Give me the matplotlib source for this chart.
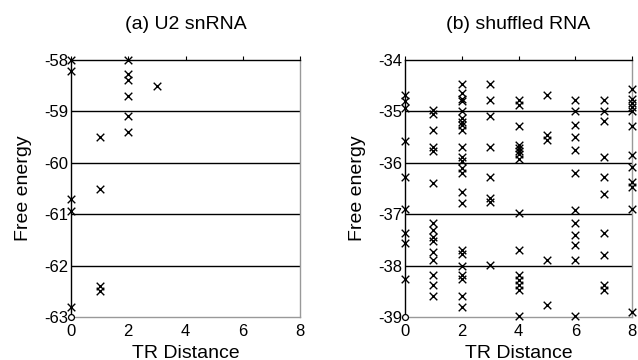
"""
Free energy vs TR distance for U2 snRNA and a shuffled RNA.
"""

import matplotlib
matplotlib.use("Agg")
import matplotlib.pyplot as plt

plt.rcParams["font.family"] = ["Liberation Sans", "DejaVu Sans"]
plt.rcParams["axes.unicode_minus"] = False

# (a) U2 snRNA: suboptimal structures
u2_dist = [0, 0, 0, 0, 0,
           1, 1, 1, 1,
           2, 2, 2, 2, 2, 2,
           3]
u2_energy = [-58.0, -58.21, -60.71, -60.93, -62.81,
             -59.49, -60.5, -62.39, -62.49,
             -58.0, -58.28, -58.39, -58.7, -59.09, -59.4,
             -58.5]
u2_mfe = (0, -63.0)

# (b) shuffled RNA
sh_dist = ([0] * 9 + [1] * 15 + [2] * 23 + [3] * 8 + [4] * 15
           + [5] * 5 + [6] * 12 + [7] * 10 + [8] * 12)
sh_energy = [
    # 0
    -34.68, -34.8, -34.94, -35.57, -36.27, -36.89, -37.37, -37.57, -38.27,
    # 1
    -34.97, -35.06, -35.36, -35.69, -35.77, -36.39,
    -37.18, -37.31, -37.44, -37.53, -37.73, -37.89, -38.18, -38.38, -38.59,
    # 2
    -34.47, -34.65, -34.75, -34.79, -34.99, -35.12, -35.2, -35.27, -35.36,
    -35.69, -35.88, -35.97, -36.11, -36.19, -36.56, -36.79,
    -37.7, -37.78, -38.0, -38.18, -38.27, -38.6, -38.8,
    # 3
    -34.47, -34.78, -35.09, -35.69, -36.27, -36.69, -36.77, -37.99,
    # 4
    -34.77, -34.88, -35.29, -35.66, -35.72, -35.82, -35.92,
    -36.98, -37.7, -38.18, -38.28, -38.38, -38.48, -38.99, -35.77,
    # 5
    -34.68, -35.46, -35.56, -37.89, -38.77,
    # 6
    -34.78, -34.99, -35.27, -35.5, -35.76, -36.19,
    -36.92, -37.18, -37.4, -37.6, -37.89, -38.99,
    # 7
    -34.78, -34.99, -35.18, -35.88, -36.27, -36.6,
    -37.37, -37.79, -38.38, -38.48,
    # 8
    -34.57, -34.75, -34.84, -34.91, -34.99, -35.29, -35.85, -36.08,
    -36.37, -36.47, -36.89, -38.9,
]
sh_mfe = (0, -39.0)

panels = [
    ("(a) U2 snRNA", u2_dist, u2_energy, u2_mfe, (-63, -58)),
    ("(b) shuffled RNA", sh_dist, sh_energy, sh_mfe, (-39, -34)),
]
x_ticks = [0, 2, 4, 6, 8]

fig = plt.figure(figsize=(6.38, 3.6), dpi=100)
rects = [[71 / 638, 43 / 360, 229 / 638, 257 / 360],
         [405 / 638, 43 / 360, 227 / 638, 257 / 360]]

for rect, (title, xs, ys, mfe, (ylo, yhi)) in zip(rects, panels):
    ax = fig.add_axes(rect)
    for yv in range(ylo + 1, yhi):
        ax.axhline(yv, color="black", linewidth=1.0, zorder=1)
    ax.scatter(xs, ys, marker="x", s=30, color="black", linewidths=1.0,
               clip_on=False, zorder=3)
    ax.scatter([mfe[0]], [mfe[1]], marker="o", s=18, facecolors="white",
               edgecolors="black", linewidths=0.9, clip_on=False, zorder=3)
    ax.set_xlim(0, 8)
    ax.set_ylim(ylo, yhi)
    ax.set_xticks(x_ticks)
    ax.set_yticks(range(ylo, yhi + 1))
    ax.tick_params(axis="both", labelsize=12, length=0, pad=2)
    ax.tick_params(axis="x", top=True, direction="out", length=3,
                   width=0.8, bottom=False)
    ax.set_xlabel("TR Distance", fontsize=14, labelpad=4)
    ax.set_ylabel("Free energy", fontsize=14, labelpad=9)
    ax.set_title(title, fontsize=14, pad=22)
    ax.spines["left"].set_color("black")
    ax.spines["top"].set_color("black")
    ax.spines["right"].set_color("#999999")
    ax.spines["bottom"].set_color("#999999")
    for s in ax.spines.values():
        s.set_linewidth(1.0)

fig.savefig("out.png", dpi=100)
plt.close(fig)
